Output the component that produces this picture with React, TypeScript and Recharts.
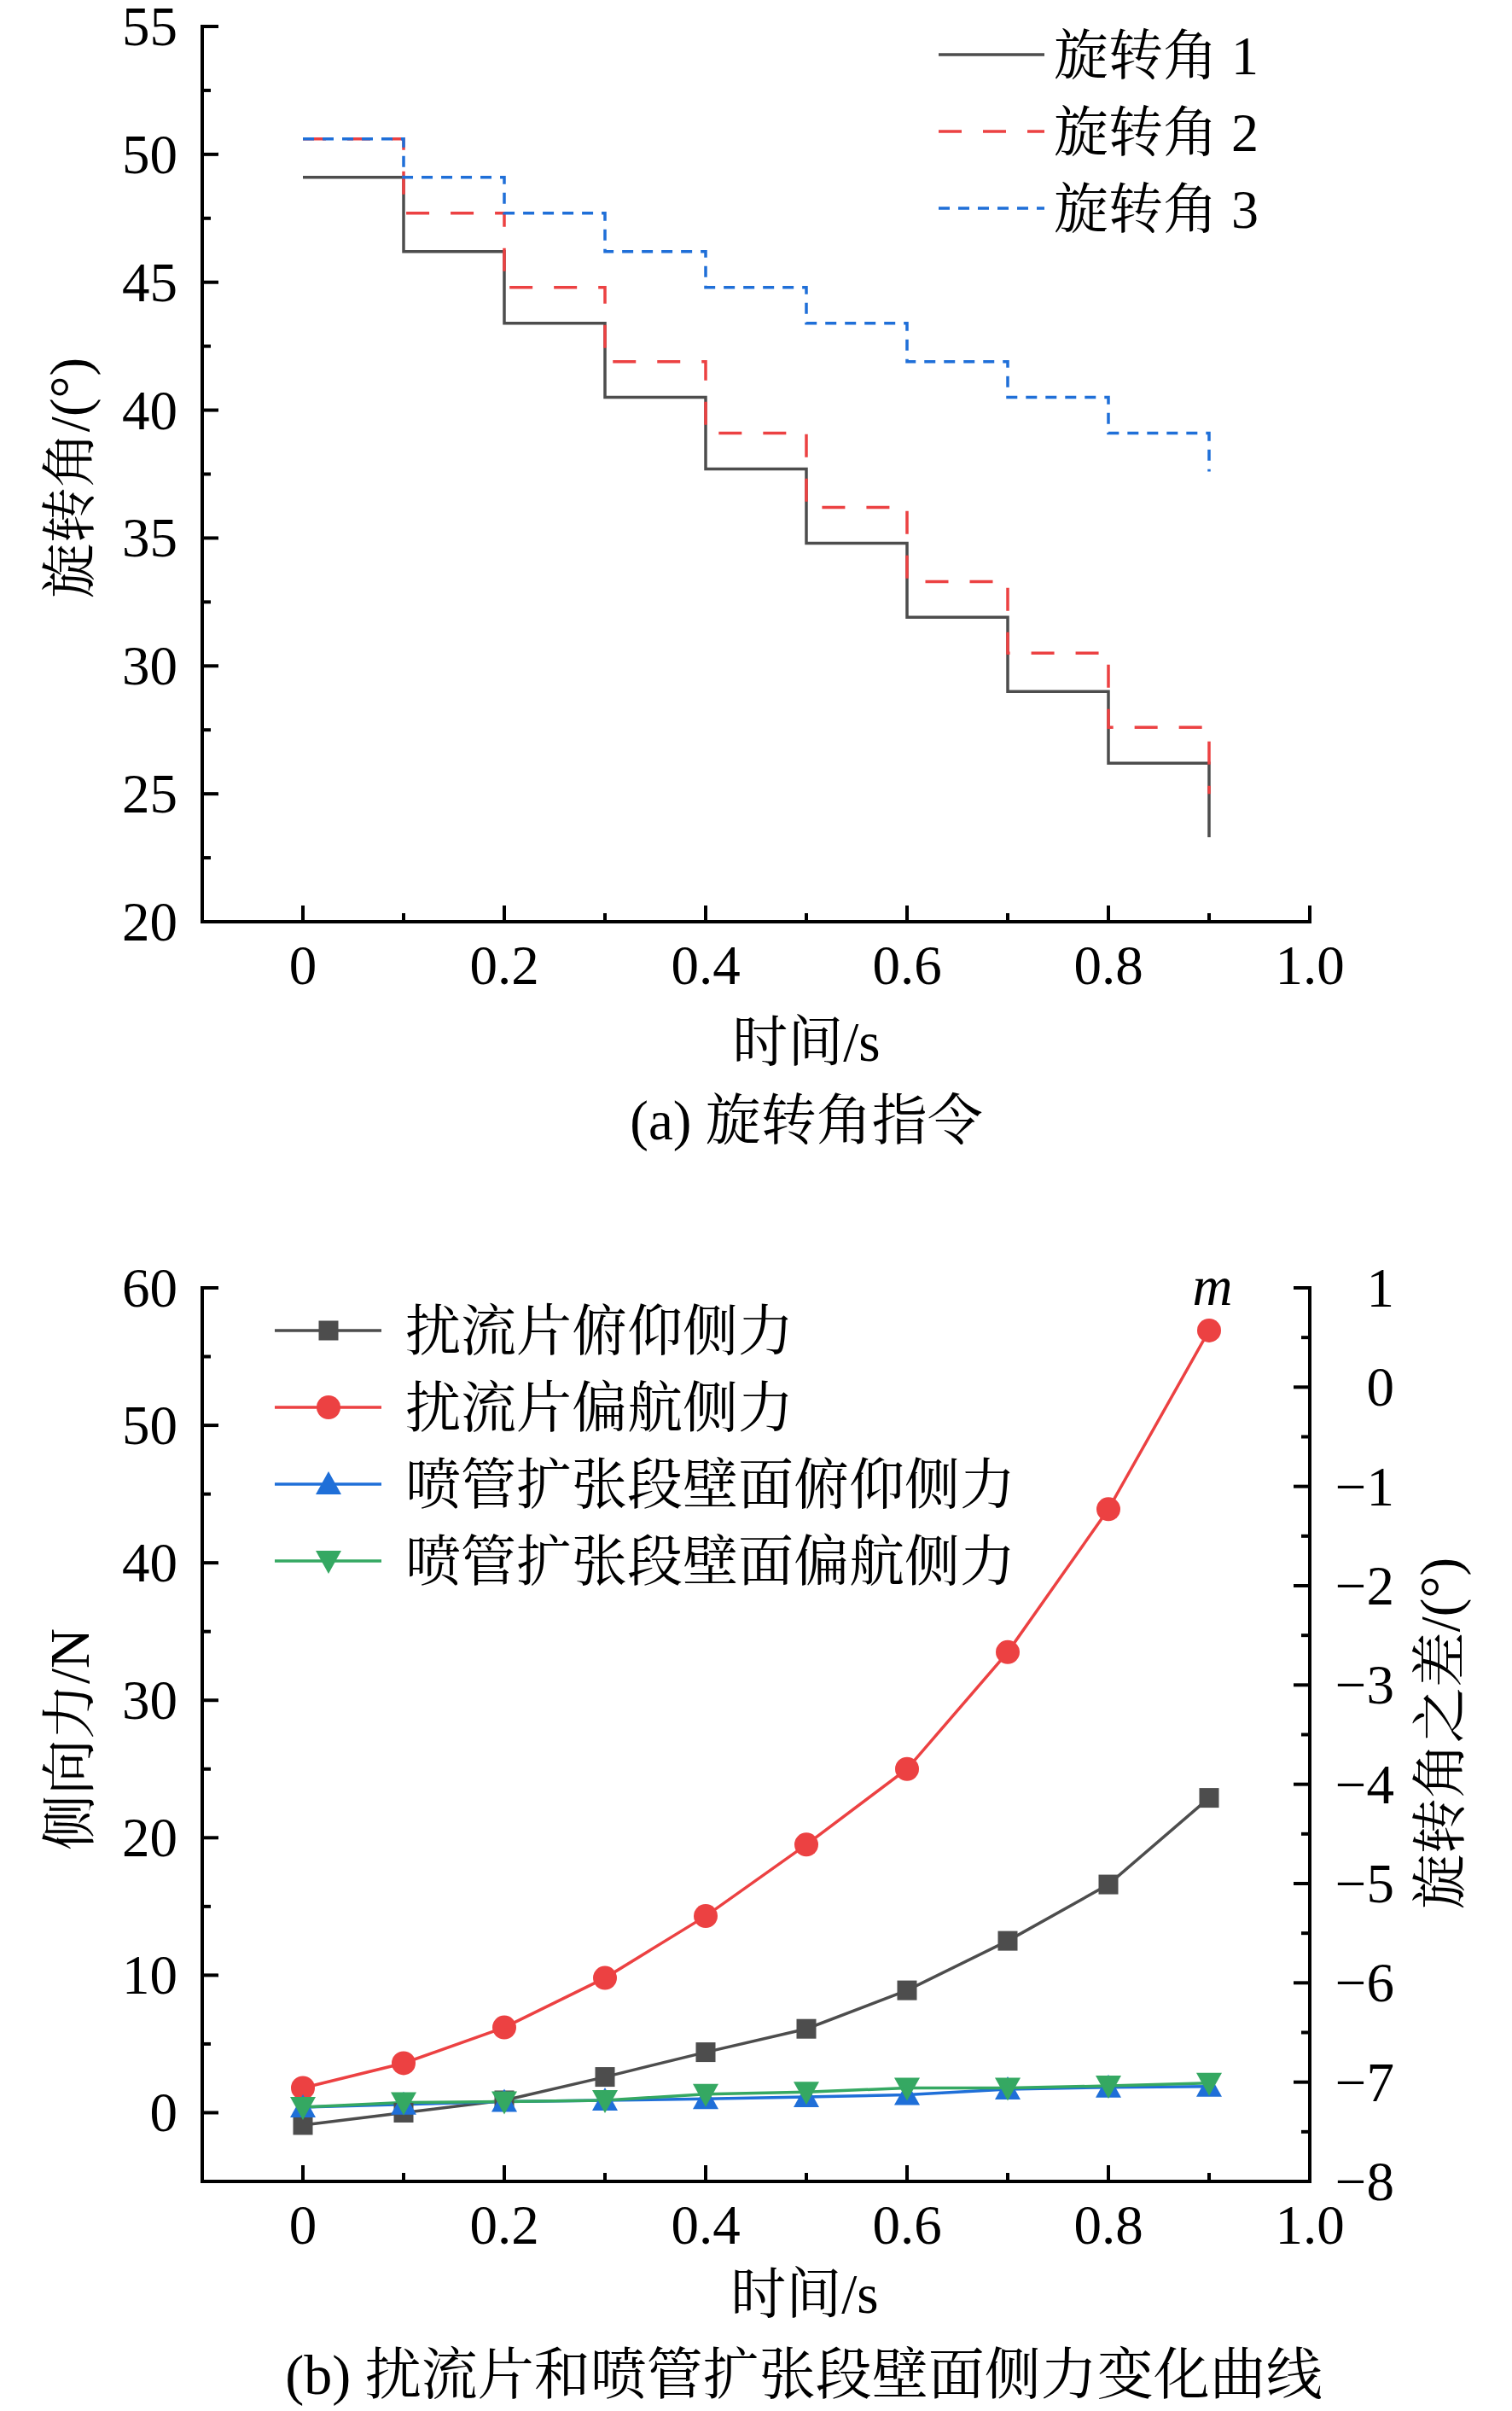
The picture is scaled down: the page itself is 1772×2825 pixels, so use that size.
import React from "react";
import { LineChart, Line, XAxis, YAxis, Legend } from "recharts";

const FONT =
  "'Liberation Serif', 'Times New Roman', 'Noto Serif CJK SC', 'Noto Sans CJK SC', serif";

// time points (s)
const times = [0, 0.1, 0.2, 0.3, 0.4, 0.5, 0.6, 0.7, 0.8, 0.9];

// (a) rotation angle commands, degrees
const angle1 = [49.1, 46.2, 43.4, 40.5, 37.7, 34.8, 31.9, 29.0, 26.2, 23.3];
const angle2 = [50.6, 47.7, 44.8, 41.9, 39.1, 36.2, 33.3, 30.5, 27.6, 25.0];
const angle3 = [50.6, 49.1, 47.7, 46.2, 44.8, 43.4, 41.9, 40.5, 39.1, 37.6];

// (b) side forces, N
const spoilerPitch = [-0.9, 0.0, 0.9, 2.6, 4.4, 6.1, 8.9, 12.5, 16.6, 22.9];
const spoilerYaw = [1.8, 3.6, 6.2, 9.8, 14.3, 19.5, 25.0, 33.5, 43.9, 56.9];
const nozzlePitch = [0.4, 0.6, 0.8, 0.9, 1.0, 1.15, 1.3, 1.7, 1.85, 1.9];
const nozzleYaw = [0.4, 0.75, 0.8, 0.9, 1.35, 1.5, 1.8, 1.8, 1.95, 2.15];

// axis ticks (minor ones drawn short, no label)
const xTicks = [0, 0.1, 0.2, 0.3, 0.4, 0.5, 0.6, 0.7, 0.8, 0.9, 1.0];
const xMajor = [0, 0.2, 0.4, 0.6, 0.8, 1.0];
const angleTicks = [20, 22.5, 25, 27.5, 30, 32.5, 35, 37.5, 40, 42.5, 45, 47.5, 50, 52.5, 55];
const angleMajor = [20, 25, 30, 35, 40, 45, 50, 55];
const forceTicks = [0, 5, 10, 15, 20, 25, 30, 35, 40, 45, 50, 55, 60];
const forceMajor = [0, 10, 20, 30, 40, 50, 60];
const diffTicks = [-8, -7.5, -7, -6.5, -6, -5.5, -5, -4.5, -4, -3.5, -3, -2.5, -2, -1.5, -1, -0.5, 0, 0.5, 1];
const diffMajor = [-8, -7, -6, -5, -4, -3, -2, -1, 0, 1];

const angleRows = times.map((t, i) => ({ t, a1: angle1[i], a2: angle2[i], a3: angle3[i] }));
const forceRows = times.map((t, i) => ({
  t,
  sp: spoilerPitch[i],
  sy: spoilerYaw[i],
  np: nozzlePitch[i],
  ny: nozzleYaw[i],
}));

const angleSeries = [
  { key: "a1", name: "旋转角 1", color: "#4d4d4d", dash: undefined },
  { key: "a2", name: "旋转角 2", color: "#ec4142", dash: "27 25" },
  { key: "a3", name: "旋转角 3", color: "#1f6fd8", dash: "13 10" },
];

const forceSeries = [
  { key: "sp", name: "扰流片俯仰侧力", color: "#4d4d4d", shape: "square" },
  { key: "sy", name: "扰流片偏航侧力", color: "#ec4142", shape: "circle" },
  { key: "np", name: "喷管扩张段壁面俯仰侧力", color: "#1f6fd8", shape: "up" },
  { key: "ny", name: "喷管扩张段壁面偏航侧力", color: "#35a862", shape: "down" },
];

const axisStyle = { stroke: "#000", strokeWidth: 4, strokeLinecap: "square" as const };
const isMajor = (v: number, majors: number[]) => majors.some((m) => Math.abs(m - v) < 1e-9);
const fmtX = (v: number) => (Math.abs(v) < 1e-9 ? "0" : v.toFixed(1));
const fmtSigned = (v: number) => (v < 0 ? "\u2212" + Math.abs(v) : String(v));

function BottomTick(props: any) {
  const { x, y, payload } = props;
  const major = isMajor(payload.value, xMajor);
  return (
    <g>
      <line x1={x} y1={y} x2={x} y2={y - (major ? 19 : 10)} stroke="#000" strokeWidth={4} />
      {major && (
        <text x={x} y={y + 73} textAnchor="middle" fontSize={65} fontFamily={FONT} fill="#000">
          {fmtX(payload.value)}
        </text>
      )}
    </g>
  );
}

function LeftTick(props: any) {
  const { x, y, payload, majors } = props;
  const major = isMajor(payload.value, majors);
  return (
    <g>
      <line x1={x} y1={y} x2={x + (major ? 19 : 10)} y2={y} stroke="#000" strokeWidth={4} />
      {major && (
        <text x={x - 29} y={y + 22} textAnchor="end" fontSize={65} fontFamily={FONT} fill="#000">
          {String(payload.value)}
        </text>
      )}
    </g>
  );
}

function RightTick(props: any) {
  const { x, y, payload } = props;
  const major = isMajor(payload.value, diffMajor);
  return (
    <g>
      <line x1={x} y1={y} x2={x - (major ? 19 : 10)} y2={y} stroke="#000" strokeWidth={4} />
      {major && (
        <text x={x + 99} y={y + 22} textAnchor="end" fontSize={65} fontFamily={FONT} fill="#000">
          {fmtSigned(payload.value)}
        </text>
      )}
    </g>
  );
}

function Marker({ shape, cx, cy, color }: { shape: string; cx: number; cy: number; color: string }) {
  if (shape === "square") return <rect x={cx - 11.5} y={cy - 11.5} width={23} height={23} fill={color} />;
  if (shape === "circle") return <circle cx={cx} cy={cy} r={14} fill={color} />;
  if (shape === "up")
    return <polygon points={`${cx},${cy - 15} ${cx - 15},${cy + 12} ${cx + 15},${cy + 12}`} fill={color} />;
  return <polygon points={`${cx},${cy + 15} ${cx - 15},${cy - 12} ${cx + 15},${cy - 12}`} fill={color} />;
}

function makeDot(shape: string, color: string, peakLabel: boolean) {
  return (p: any) => {
    if (p.cx == null || p.cy == null) return <g key={`d-${p.index}`} />;
    return (
      <g key={`d-${p.index}`}>
        <Marker shape={shape} cx={p.cx} cy={p.cy} color={color} />
        {peakLabel && p.index === times.length - 1 && (
          <text x={p.cx + 4} y={p.cy - 30} textAnchor="middle" fontStyle="italic" fontSize={65} fontFamily={FONT} fill="#000">
            m
          </text>
        )}
      </g>
    );
  };
}

function AngleLegend() {
  return (
    <svg width={560} height={280} style={{ overflow: "visible" }}>
      {angleSeries.map((s, i) => {
        const y = 44 + i * 90;
        return (
          <g key={s.key}>
            <line x1={10} y1={y} x2={134} y2={y} stroke={s.color} strokeWidth={3.5} strokeDasharray={s.dash} />
            <text x={145} y={y + 23} fontSize={64} fontFamily={FONT} fill="#000">
              {s.name}
            </text>
          </g>
        );
      })}
    </svg>
  );
}

function ForceLegend() {
  return (
    <svg width={950} height={380} style={{ overflow: "visible" }}>
      {forceSeries.map((s, i) => {
        const y = 59 + i * 90;
        return (
          <g key={s.key}>
            <line x1={22} y1={y} x2={147} y2={y} stroke={s.color} strokeWidth={3.5} />
            <Marker shape={s.shape} cx={85} cy={y} color={s.color} />
            <text x={175} y={y + 23} fontSize={65} fontFamily={FONT} fill="#000">
              {s.name}
            </text>
          </g>
        );
      })}
    </svg>
  );
}

export default function App() {
  return (
    <div style={{ position: "absolute", left: 0, top: 0, width: 1772, height: 2825, background: "#fff" }}>
      <div style={{ position: "absolute", left: 0, top: 0 }}>
        <LineChart width={1772} height={1400} data={angleRows} margin={{ top: 31, right: 237, bottom: 220, left: 137 }}>
          <XAxis
            dataKey="t"
            type="number"
            domain={[-0.1, 1.0]}
            ticks={xTicks}
            interval={0}
            tickSize={0}
            tickMargin={0}
            tickLine={false}
            axisLine={axisStyle}
            tick={<BottomTick />}
            height={100}
          />
          <YAxis
            type="number"
            domain={[20, 55]}
            ticks={angleTicks}
            interval={0}
            tickSize={0}
            tickMargin={0}
            tickLine={false}
            axisLine={axisStyle}
            tick={<LeftTick majors={angleMajor} />}
            width={100}
          />
          <Legend
            layout="vertical"
            align="center"
            verticalAlign="middle"
            wrapperStyle={{ left: 1090, top: 20, width: 560, height: 280 }}
            content={<AngleLegend />}
          />
          {angleSeries.map((s) => (
            <Line
              key={s.key}
              type="stepAfter"
              dataKey={s.key}
              name={s.name}
              stroke={s.color}
              strokeWidth={3.5}
              strokeDasharray={s.dash}
              dot={false}
              activeDot={false}
              isAnimationActive={false}
            />
          ))}
        </LineChart>
      </div>

      <div style={{ position: "absolute", left: 0, top: 1400 }}>
        <LineChart width={1772} height={1425} data={forceRows} margin={{ top: 109, right: 137, bottom: 169, left: 137 }}>
          <XAxis
            dataKey="t"
            type="number"
            domain={[-0.1, 1.0]}
            ticks={xTicks}
            interval={0}
            tickSize={0}
            tickMargin={0}
            tickLine={false}
            axisLine={axisStyle}
            tick={<BottomTick />}
            height={100}
          />
          <YAxis
            yAxisId="left"
            type="number"
            domain={[-5, 60]}
            ticks={forceTicks}
            interval={0}
            tickSize={0}
            tickMargin={0}
            tickLine={false}
            axisLine={axisStyle}
            tick={<LeftTick majors={forceMajor} />}
            width={100}
          />
          <YAxis
            yAxisId="right"
            orientation="right"
            type="number"
            domain={[-8, 1]}
            allowDataOverflow
            ticks={diffTicks}
            interval={0}
            tickSize={0}
            tickMargin={0}
            tickLine={false}
            axisLine={axisStyle}
            tick={<RightTick />}
            width={100}
          />
          <Legend
            layout="vertical"
            align="center"
            verticalAlign="middle"
            wrapperStyle={{ left: 300, top: 100, width: 950, height: 380 }}
            content={<ForceLegend />}
          />
          {forceSeries.map((s) => (
            <Line
              key={s.key}
              yAxisId="left"
              type="linear"
              dataKey={s.key}
              name={s.name}
              stroke={s.color}
              strokeWidth={3.5}
              dot={makeDot(s.shape, s.color, s.key === "sy")}
              activeDot={false}
              isAnimationActive={false}
            />
          ))}
        </LineChart>
      </div>

      <svg
        width={1772}
        height={2825}
        style={{ position: "absolute", left: 0, top: 0, pointerEvents: "none" }}
        fontFamily={FONT}
        fill="#000"
      >
        <text x={82} y={560} fontSize={65} textAnchor="middle" dominantBaseline="central" transform="rotate(-90 82 560)">
          旋转角/(°)
        </text>
        <text x={945} y={1243} fontSize={65} textAnchor="middle">
          时间/s
        </text>
        <text x={945} y={1335} fontSize={65} textAnchor="middle">
          (a) 旋转角指令
        </text>
        <text x={82} y={2038} fontSize={65} textAnchor="middle" dominantBaseline="central" transform="rotate(-90 82 2038)">
          侧向力/N
        </text>
        <text x={1688} y={2031} fontSize={65} textAnchor="middle" dominantBaseline="central" transform="rotate(-90 1688 2031)">
          旋转角之差/(°)
        </text>
        <text x={943} y={2710} fontSize={65} textAnchor="middle">
          时间/s
        </text>
        <text x={942} y={2805} fontSize={66} textAnchor="middle">
          (b) 扰流片和喷管扩张段壁面侧力变化曲线
        </text>
      </svg>
    </div>
  );
}
